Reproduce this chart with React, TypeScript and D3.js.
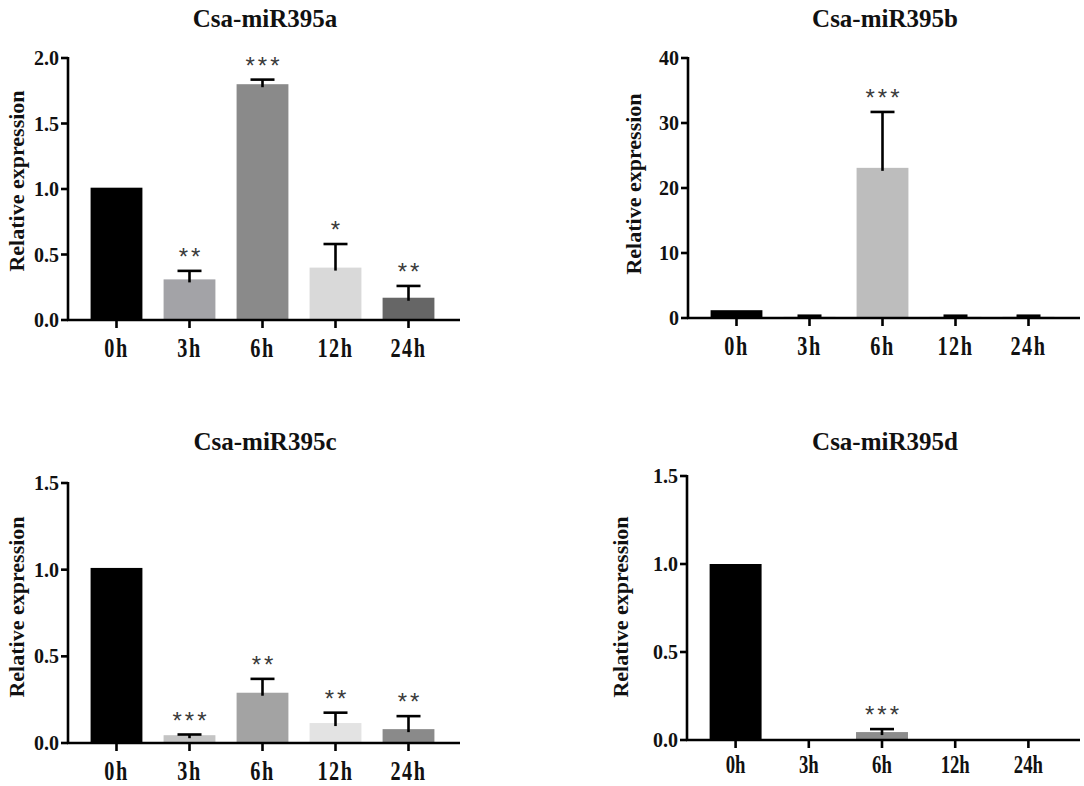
import React from "react";
import * as d3 from "d3";

const categories = ["0h", "3h", "6h", "12h", "24h"];

const miR395aMean = [1.01, 0.31, 1.8, 0.4, 0.17];
const miR395aErr = [0, 0.065, 0.035, 0.18, 0.09];
const miR395aSig = ["", "**", "***", "*", "**"];

const miR395bMean = [1.2, 0.2, 23.1, 0.2, 0.2];
const miR395bErr = [0, 0.15, 8.6, 0.15, 0.15];
const miR395bSig = ["", "", "***", "", ""];

const miR395cMean = [1.01, 0.045, 0.29, 0.115, 0.08];
const miR395cErr = [0, 0.004, 0.08, 0.06, 0.075];
const miR395cSig = ["", "***", "**", "**", "**"];

const miR395dMean = [1.0, 0, 0.045, 0, 0];
const miR395dErr = [0, 0, 0.017, 0, 0];
const miR395dSig = ["", "", "***", "", ""];

const ticksA = [0, 0.5, 1.0, 1.5, 2.0];
const ticksB = [0, 10, 20, 30, 40];
const ticksC = [0, 0.5, 1.0, 1.5];
const ticksD = [0, 0.5, 1.0, 1.5];

const colorsA = ["#000000", "#a3a3a7", "#8a8a8a", "#d9d9d9", "#666666"];
const colorsB = ["#000000", "#d6d6d6", "#bdbdbd", "#d6d6d6", "#cfcfcf"];
const colorsC = ["#000000", "#c4c4c4", "#a3a3a3", "#e3e3e3", "#8a8a8a"];
const colorsD = ["#000000", "#aaaaaa", "#8c8c8c", "#cccccc", "#777777"];

const SERIF = "'Liberation Serif', 'Times New Roman', serif";

type PanelProps = {
  title: string;
  mean: number[];
  err: number[];
  sig: string[];
  colors: string[];
  ticks: number[];
  fmt: (v: number) => string;
  x0: number;
  x1: number;
  yTop: number;
  yBottom: number;
  titleY: number;
  titleX: number;
  labelX: number;
  labelY: number;
  xLabelDy: number;
  xLabelSize: number;
  xLabelSpacing: number;
};

function Panel(p: PanelProps) {
  const domainMax = p.ticks[p.ticks.length - 1];
  const y = d3.scaleLinear().domain([0, domainMax]).range([p.yBottom, p.yTop]);
  const x = d3
    .scaleBand<string>()
    .domain(categories)
    .range([p.x0 + 12, p.x1 - 15])
    .paddingInner(0.29)
    .paddingOuter(0.145);
  const bw = x.bandwidth();
  const cx = (c: string) => (x(c) as number) + bw / 2;
  const sw = 2.6;
  return (
    <g>
      <text
        x={p.titleX}
        y={p.titleY}
        textAnchor="middle"
        fontFamily={SERIF}
        fontWeight="bold"
        fontSize={25}
        fill="#111"
      >
        {p.title}
      </text>
      <text
        transform={`translate(${p.labelX},${p.labelY}) rotate(-90)`}
        textAnchor="middle"
        dominantBaseline="central"
        fontFamily={SERIF}
        fontWeight="bold"
        fontSize={22}
        fill="#111"
      >
        Relative expression
      </text>
      {/* bars */}
      {categories.map((c, i) => {
        const v = p.mean[i];
        if (v <= 0) return null;
        return (
          <rect
            key={"b" + c}
            x={x(c)}
            y={y(v)}
            width={bw}
            height={y(0) - y(v)}
            fill={p.colors[i]}
          />
        );
      })}
      {/* error bars */}
      {categories.map((c, i) => {
        const e = p.err[i];
        if (e <= 0) return null;
        const top = y(p.mean[i] + e);
        const base = y(p.mean[i]);
        return (
          <g key={"e" + c} stroke="#000" strokeWidth={sw}>
            <line x1={cx(c)} x2={cx(c)} y1={Math.min(base + 3, y(0))} y2={top} />
            <line x1={cx(c) - 12} x2={cx(c) + 12} y1={top} y2={top} />
          </g>
        );
      })}
      {/* significance */}
      {categories.map((c, i) => {
        const s = p.sig[i];
        if (!s) return null;
        const top = y(p.mean[i] + p.err[i]);
        return (
          <text
            key={"s" + c}
            x={cx(c) + 1.5}
            y={top - 6}
            textAnchor="middle"
            fontFamily="'Liberation Sans', Arial, sans-serif"
            fontSize={24}
            letterSpacing={3}
            fill="#3a3a3a"
          >
            {s}
          </text>
        );
      })}
      {/* y axis */}
      <line x1={p.x0} x2={p.x0} y1={p.yTop - 1} y2={p.yBottom} stroke="#000" strokeWidth={sw} />
      {p.ticks.map((t) => (
        <g key={"yt" + t}>
          <line x1={p.x0 - 7} x2={p.x0} y1={y(t)} y2={y(t)} stroke="#000" strokeWidth={sw} />
          <text
            x={p.x0 - 9}
            y={y(t)}
            dy="0.35em"
            textAnchor="end"
            fontFamily={SERIF}
            fontWeight="bold"
            fontSize={20}
            fill="#111"
          >
            {p.fmt(t)}
          </text>
        </g>
      ))}
      {/* x axis */}
      <line x1={p.x0 - 1} x2={p.x1} y1={p.yBottom} y2={p.yBottom} stroke="#000" strokeWidth={sw} />
      {categories.map((c) => (
        <g key={"xt" + c}>
          <line x1={cx(c)} x2={cx(c)} y1={p.yBottom} y2={p.yBottom + 8} stroke="#000" strokeWidth={sw} />
          <text
            transform={`translate(${cx(c)},${p.yBottom + p.xLabelDy}) scale(0.75,1)`}
            textAnchor="middle"
            fontFamily={SERIF}
            fontWeight="bold"
            fontSize={p.xLabelSize}
            letterSpacing={p.xLabelSpacing}
            fill="#111"
          >
            {c}
          </text>
        </g>
      ))}
    </g>
  );
}

const f1 = d3.format(".1f");
const f0 = d3.format("d");

export default function App() {
  return (
    <div style={{ position: "absolute", left: 0, top: 0 }}>
      <svg width={1084} height={786} style={{ display: "block", background: "#fff" }}>
        <Panel
          title="Csa-miR395a"
          mean={miR395aMean}
          err={miR395aErr}
          sig={miR395aSig}
          colors={colorsA}
          ticks={ticksA}
          fmt={f1}
          x0={68}
          x1={460}
          yTop={58}
          yBottom={320}
          titleX={265}
          titleY={27}
          labelX={16}
          labelY={181}
          xLabelDy={37}
          xLabelSize={27}
          xLabelSpacing={2}
        />
        <Panel
          title="Csa-miR395b"
          mean={miR395bMean}
          err={miR395bErr}
          sig={miR395bSig}
          colors={colorsB}
          ticks={ticksB}
          fmt={f0}
          x0={688}
          x1={1080}
          yTop={58}
          yBottom={318}
          titleX={885}
          titleY={27}
          labelX={633}
          labelY={184}
          xLabelDy={37}
          xLabelSize={27}
          xLabelSpacing={2}
        />
        <Panel
          title="Csa-miR395c"
          mean={miR395cMean}
          err={miR395cErr}
          sig={miR395cSig}
          colors={colorsC}
          ticks={ticksC}
          fmt={f1}
          x0={68}
          x1={460}
          yTop={483}
          yBottom={743}
          titleX={265}
          titleY={450}
          labelX={16}
          labelY={607}
          xLabelDy={37}
          xLabelSize={27}
          xLabelSpacing={2}
        />
        <Panel
          title="Csa-miR395d"
          mean={miR395dMean}
          err={miR395dErr}
          sig={miR395dSig}
          colors={colorsD}
          ticks={ticksD}
          fmt={f1}
          x0={687}
          x1={1080}
          yTop={476}
          yBottom={740}
          titleX={885}
          titleY={450}
          labelX={620}
          labelY={607}
          xLabelDy={33}
          xLabelSize={25}
          xLabelSpacing={0}
        />
      </svg>
    </div>
  );
}
